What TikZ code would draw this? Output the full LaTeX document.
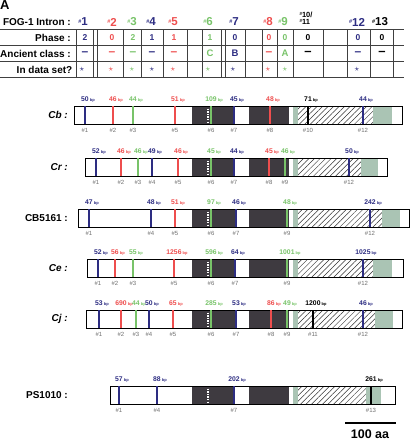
\documentclass[tikz,border=0pt]{standalone}
\usepackage{fontspec}
\setmainfont{Liberation Sans}
\usetikzlibrary{patterns.meta}
\definecolor{navy}{RGB}{45,45,130}
\definecolor{salmon}{RGB}{238,78,78}
\definecolor{leaf}{RGB}{120,195,105}
\definecolor{darkbox}{RGB}{62,58,64}
\definecolor{sage}{RGB}{170,196,180}
\definecolor{hashgrey}{RGB}{110,110,110}
\newcommand{\fs}[1]{\fontsize{#1}{#1}\selectfont}
\newcommand{\hh}{\raisebox{2.8pt}{\fs{5.5}\#}}
\newcommand{\bary}{0}
% bar of one gene: #1 top, #2 left, #3 right, #4 end of hatching, #5 end of sage box
\newcommand{\genebar}[5]{%
  \fill[white] (#2,#1) rectangle (#3,#1+18);
  \fill[darkbox] (192,#1) rectangle (235,#1+18);
  \fill[darkbox] (249,#1) rectangle (289,#1+18);
  \draw[white, line width=1.2pt, dash pattern=on 1.4pt off 1.2pt] (208,#1) -- (208,#1+18);
  \fill[sage] (293,#1) rectangle (298,#1+18);
  \fill[pattern={Lines[angle=45,distance=3.9pt,line width=0.5pt]}, pattern color=black!80] (298,#1) rectangle (#4,#1+18);
  \fill[sage] (#4,#1) rectangle (#5,#1+18);
  \draw[line width=0.6pt] (#2,#1) rectangle (#3,#1+18);
}
% intron: #1 gene, #2 number, #3 x, #4 colour, #5 size
\newcommand{\intron}[5]{%
  \draw[#4, line width=1.1pt] (#3,\bary) -- (#3,\bary+18);
  \node[bplab, text=#4] (#1-bp#2) at (#3,\bary-6.5) {#5\rlap{\,\fs{4}bp}};
  \node[numlab] (#1-n#2) at (#3,\bary+24.5) {\##2};
}
\begin{document}
\begin{tikzpicture}[x=1pt,y=-1pt,
  rowlab/.style={anchor=east, inner sep=0pt, font=\fs{10}\bfseries},
  head/.style={inner sep=0pt, font=\fs{11.5}\bfseries},
  cell/.style={inner sep=0pt, font=\fs{8.5}\bfseries},
  bplab/.style={inner sep=0pt, font=\fs{6.8}\bfseries},
  numlab/.style={inner sep=0pt, text=hashgrey, font=\fs{6}},
  species/.style={anchor=east, inner sep=0pt, font=\fs{10}\bfseries\itshape}]
\useasboundingbox (0,0) rectangle (411,440);
\node[anchor=north west, inner sep=0pt, font=\fs{13}\bfseries] (panel) at (0,0.5) {A};

% table
\node[rowlab] (intron) at (71,22) {FOG-1 Intron :};
\node[rowlab] (phase) at (71,37.5) {Phase :};
\node[rowlab] (class) at (71,53.5) {Ancient class :};
\node[rowlab] (dataset) at (72.5,69.5) {In data set?};
\foreach \y in {29.5,45.5,61.5,77.5}
  \draw[black!75, line width=0.8pt] (0,\y) -- (404,\y);
\foreach \x in {76,93,97,123,141,163,187,202,221,225,245,262,277,293,323,347,370,393}
  \draw[black!75, line width=0.7pt] (\x,29.5) -- (\x,77.5);
\foreach \n/\x/\col in {1/83/navy,2/112/salmon,3/132/leaf,4/151/navy,5/173/salmon,6/208/leaf,7/234/navy,8/268/salmon,9/283/leaf,12/357/navy,13/380/black}
  \node[head, text=\col] (h\n) at (\x,22) {\hh\n};
\node[inner sep=0pt, align=left, font=\fs{7.5}\bfseries] (h10) at (306,18.5) {\raisebox{2pt}{\fs{4.5}\#}10/\\\raisebox{2pt}{\fs{4.5}\#}11};
\foreach \x/\col/\v in {85/navy/2,112/salmon/0,133/leaf/2,152/navy/1,174/salmon/1,210/leaf/1,235/navy/0,269/salmon/0,285/leaf/0,308/black/0,358/navy/0,382/black/0}
  \node[cell, text=\col] (ph\x) at (\x,37.5) {\v};
\foreach \x/\col/\v in {85/navy/{\fs{12}–},112/salmon/{\fs{12}–},133/leaf/{\fs{12}–},152/navy/{\fs{12}–},174/salmon/{\fs{12}–},210/leaf/C,235/navy/B,269/salmon/{\fs{12}–},285/leaf/A,308/black/{\fs{13}–},358/navy/{\fs{12}–},382/black/{\fs{13}–}}
  \node[cell, font=\fs{9.5}\bfseries, text=\col] (cl\x) at (\x,53.5) {\v};
\foreach \x/\col in {82/navy,111/salmon,132/leaf,152/navy,173/salmon,208/leaf,233/navy,268/salmon,285/leaf,357/navy}
  \node[cell, text=\col] (st\x) at (\x,69.5) {\fs{9}$\star$};

% Cb
\renewcommand{\bary}{106}
\genebar{106}{74}{402}{373}{392}
\node[species] (cb) at (68,115) {Cb :};
\foreach \n/\x/\col/\bp in {1/85/navy/50,2/113/salmon/46,3/133/leaf/44,5/175/salmon/51,6/211/leaf/109,7/234/navy/45,8/270/salmon/48,10/308/black/71,12/363/navy/44}
  {\intron{cb}{\n}{\x}{\col}{\bp}}

% Cr
\renewcommand{\bary}{158}
\genebar{158}{85}{387}{361}{378}
\node[species] (cr) at (68,167) {Cr :};
\foreach \n/\x/\col/\bp in {1/96/navy/52,2/121/salmon/46,3/138/leaf/46,4/152/navy/49,5/178/salmon/46,6/211/leaf/45,7/234/navy/44,8/269/salmon/45,9/285/leaf/46,12/349/navy/50}
  {\intron{cr}{\n}{\x}{\col}{\bp}}

% CB5161
\renewcommand{\bary}{209}
\genebar{209}{78}{409}{382}{400}
\node[species, font=\fs{10}\bfseries] (cbx) at (68,218) {CB5161 :};
\foreach \n/\x/\col/\bp in {1/89/navy/47,4/151/navy/48,5/175/salmon/51,6/211/leaf/97,7/236/navy/46,9/287/leaf/48,12/370/navy/242}
  {\intron{cbx}{\n}{\x}{\col}{\bp}}

% Ce
\renewcommand{\bary}{259}
\genebar{259}{87}{403}{373}{392}
\node[species] (ce) at (68,268) {Ce :};
\foreach \n/\x/\col/\bp in {1/98/navy/52,2/115/salmon/56,3/133/leaf/55,5/174/salmon/1256,6/211/leaf/596,7/235/navy/64,9/287/leaf/1001,12/363/navy/1025}
  {\intron{ce}{\n}{\x}{\col}{\bp}}

% Cj
\renewcommand{\bary}{310}
\genebar{310}{86}{402}{375}{393}
\node[species] (cj) at (68,319) {Cj :};
\foreach \n/\x/\col/\bp in {1/99/navy/53,2/121/salmon/690,3/136/leaf/44,4/149/navy/50,5/173/salmon/65,6/211/leaf/285,7/236/navy/53,8/271/salmon/86,9/287/leaf/49,11/313/black/1200,12/363/navy/46}
  {\intron{cj}{\n}{\x}{\col}{\bp}}

% PS1010
\renewcommand{\bary}{386}
\genebar{386}{110}{395}{366}{381}
\node[species, font=\fs{10}\bfseries] (ps) at (68,395) {PS1010 :};
\foreach \n/\x/\col/\bp in {1/119/navy/57,4/157/navy/88,7/234/navy/202,13/371/black/261}
  {\intron{ps}{\n}{\x}{\col}{\bp}}

% scale
\coordinate (sb-l) at (345,423);
\coordinate (sb-r) at (396,423);
\draw[line width=1.5pt] (sb-l) -- (sb-r);
\node[inner sep=0pt, font=\fs{12.5}\bfseries] (sb) at (370,434) {100 aa};
\end{tikzpicture}
\end{document}
